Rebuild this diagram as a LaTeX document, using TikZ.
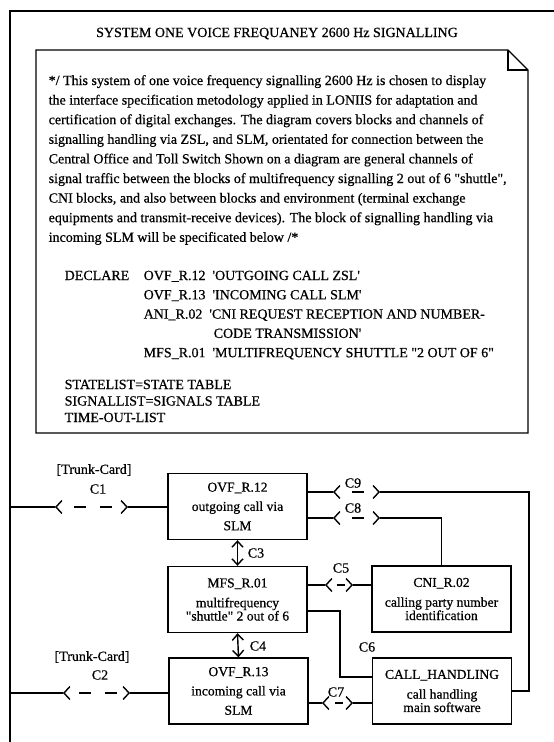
\documentclass[tikz,border=0pt]{standalone}
\usepackage{fontspec}
\newfontfamily\docfont{Liberation Serif}[FakeBold=0.6]
\usetikzlibrary{arrows.meta}
\newcommand{\bodysize}{\fontsize{14}{19.6}\selectfont}
\newcommand{\blocksize}{\fontsize{13.6}{13.3}\selectfont}
\tikzset{
  block/.style={draw, minimum width=139pt, minimum height=66pt,
    inner sep=0pt, align=center, font=\docfont\blocksize},
  chan/.style={{Straight Barb[length=6pt,width=13pt]}-{Straight Barb[length=6pt,width=13pt]}},
  onedash/.style 2 args={chan, dash pattern=on 0pt off #1 on #2 off 200pt},
  twodash/.style={chan, dash pattern=on 0pt off #1 on 12pt off 14pt on 12pt off 200pt},
  bidir/.style={{Straight Barb[length=6pt,width=11pt]}-{Straight Barb[length=6pt,width=11pt]}},
  line/.style={anchor=base west, inner sep=0pt},
}
\begin{document}
\begin{tikzpicture}[x=1pt, y=-1pt, line width=1.4pt, font=\docfont\bodysize]
  \useasboundingbox (0,0) rectangle (554,742);
  % frame and title
  \draw (554,11) -- (10,11) -- (10,742);
  \node[anchor=base] (title) at (277,37) {SYSTEM ONE VOICE FREQUANEY 2600 Hz SIGNALLING};
  % note sheet with folded corner
  \draw (36,433) -- (36,50) -- (508,50) -- (528,70) -- (528,433) -- cycle;
  \draw (508,50) -- (508,70) -- (528,70);
  \foreach \ln [count=\i from 0] in {
      {*/ This system of one voice frequency signalling 2600 Hz is chosen to display},
      {the interface specification metodology applied in LONIIS for adaptation and},
      {certification of digital exchanges. The diagram covers blocks and channels of},
      {signalling handling via ZSL, and SLM, orientated for connection between the},
      {Central Office and Toll Switch Shown on a diagram are general channels of},
      {signal traffic between the blocks of multifrequency signalling 2 out of 6 "shuttle",},
      {CNI blocks, and also between blocks and environment (terminal exchange},
      {equipments and transmit-receive devices). The block of signalling handling via},
      {incoming SLM will be specificated below /*}}
    \node[line] (par\i) at (48,85+19.6*\i) {\ln};
  \node[line] (decl) at (64,280) {DECLARE};
  \foreach \ln [count=\i from 0] in {
      {OVF\_R.12\ \ 'OUTGOING CALL ZSL'},
      {OVF\_R.13\ \ 'INCOMING CALL SLM'},
      {ANI\_R.02\ \ 'CNI REQUEST RECEPTION AND NUMBER-},
      {\hspace*{70pt}CODE TRANSMISSION'},
      {MFS\_R.01\ \ 'MULTIFREQUENCY SHUTTLE "2 OUT OF 6"}}
    \node[line] (dec\i) at (143,280+19.3*\i) {\ln};
  \node[line] (states) at (64,389) {STATELIST=STATE TABLE};
  \node[line] (signals) at (64,405.5) {SIGNALLIST=SIGNALS TABLE};
  \node[line] (timeouts) at (64,422) {TIME-OUT-LIST};

  % blocks
  \node[block] (ovf12) at (237.5,506.5) {OVF\_R.12\\[6pt]outgoing call via\\[6pt]SLM};
  \node[block] (mfs01) at (237.5,599.5) {MFS\_R.01\\[6.5pt]multifrequency\\"shuttle" 2 out of 6};
  \node[block] (ovf13) at (238.5,691) {OVF\_R.13\\[6pt]incoming call via\\[6pt]SLM};
  \node[block] (cni02) at (441.5,599) {CNI\_R.02\\[6.5pt]calling party number\\identification};
  \node[block] (callh) at (442,691) {CALL\_HANDLING\\[6.5pt]call handling\\main software};

  % channel points
  \coordinate (l1) at (10,507);
  \coordinate (l2) at (10,693);
  \coordinate (c1a) at (55,507);   \coordinate (c1b) at (128,507);
  \coordinate (c2a) at (63,693);   \coordinate (c2b) at (130,693);
  \coordinate (c9a) at (333,492);  \coordinate (c9b) at (380,492);
  \coordinate (c8a) at (333,518);  \coordinate (c8b) at (380,518);
  \coordinate (c5a) at (325,585);  \coordinate (c5b) at (353,585);
  \coordinate (c7a) at (322,703);  \coordinate (c7b) at (353,703);
  \coordinate (c9c) at (529,492);
  \coordinate (c6a) at (340,611);  \coordinate (c6b) at (340,677);

  % channels
  \draw (l1) -- (c1a) (c1b) -- (ovf12.west |- c1b);
  \draw[twodash=17.5pt] (c1a) -- (c1b);
  \draw (l2) -- (c2a) (c2b) -- (ovf13.west |- c2b);
  \draw[twodash=14.5pt] (c2a) -- (c2b);
  \draw (ovf12.east |- c9a) -- (c9a) (c9b) -- (c9c) |- (callh.east);
  \draw[onedash={17.5pt}{12pt}] (c9a) -- (c9b);
  \draw (ovf12.east |- c8a) -- (c8a) (c8b) -| (cni02.north);
  \draw[onedash={17.5pt}{12pt}] (c8a) -- (c8b);
  \draw (mfs01.east |- c5a) -- (c5a) (c5b) -- (cni02.west |- c5b);
  \draw[onedash={10pt}{8pt}] (c5a) -- (c5b);
  \draw (mfs01.east |- c6a) -- (c6a) -- (c6b) -- (callh.west |- c6b);
  \draw (ovf13.east |- c7a) -- (c7a) (c7b) -- (callh.west |- c7b);
  \draw[onedash={11.5pt}{8pt}] (c7a) -- (c7b);
  \draw[bidir] (ovf12.south) -- (mfs01.north);
  \draw[bidir] (mfs01.south) -- (ovf13.north);

  % channel labels
  \node (trunk1) at (94,470) {[Trunk-Card]};
  \node (lc1) at (98,489) {C1};
  \node (trunk2) at (92,657) {[Trunk-Card]};
  \node (lc2) at (100,675) {C2};
  \node (lc3) at (256,553) {C3};
  \node (lc4) at (258,646) {C4};
  \node (lc5) at (341,568) {C5};
  \node (lc6) at (367,647) {C6};
  \node (lc7) at (336,692) {C7};
  \node (lc8) at (353,508) {C8};
  \node (lc9) at (353,483) {C9};
\end{tikzpicture}
\end{document}
